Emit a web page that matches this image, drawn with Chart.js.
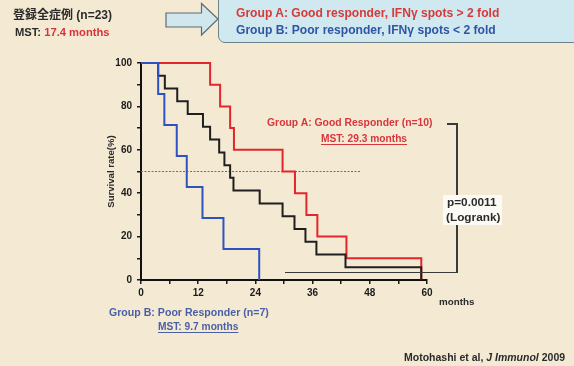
<!DOCTYPE html>
<html>
<head>
<meta charset="utf-8">
<script src="https://cdn.jsdelivr.net/npm/chart.js@4/dist/chart.umd.min.js"></script>
<style>
  html, body { margin: 0; padding: 0; }
  body {
    width: 574px; height: 366px; overflow: hidden; position: relative;
    background: #f4ead4;
    font-family: "Liberation Sans", "Noto Sans CJK JP", sans-serif;
  }
  #chart { position: absolute; left: 0; top: 0; }
  .t { position: absolute; white-space: nowrap; font-weight: bold; line-height: 1; }
  .u { text-decoration: underline; text-underline-offset: 2px; text-decoration-thickness: 1px; }
  .line { position: absolute; background: #3a3a3a; }
  #groupbox {
    position: absolute; left: 218px; top: -10px; width: 370px; height: 51px;
    background: #d0e8ef; border: 1px solid #6f8086; border-radius: 7px;
  }
  #pbox { position: absolute; left: 443px; top: 195px; width: 59px; height: 30px; background: #fbfaf4; }
</style>
</head>
<body>
<canvas id="chart" width="574" height="366"></canvas>

<!-- header: whole cohort -->
<div class="t" style="left:13px; top:9px; font-size:12px; color:#2b2b2b;">登録全症例 (n=23)</div>
<div class="t" style="left:15px; top:27px; font-size:11.2px; color:#2b2b2b;">MST: <span style="color:#d8323a;">17.4 months</span></div>

<!-- arrow pointing to the group definitions -->
<svg style="position:absolute; left:0; top:0;" width="574" height="60">
  <polygon points="166,13 201.5,13 201.5,3.5 218,19 201.5,35 201.5,27 166,27"
           fill="#d0e7ee" stroke="#5f6b70" stroke-width="1.2" stroke-linejoin="miter"/>
</svg>
<div id="groupbox"></div>
<div class="t" style="left:236px; top:7px; font-size:12.1px; color:#d63a3a;">Group A: Good responder, IFNγ spots &gt; 2 fold</div>
<div class="t" style="left:236px; top:24px; font-size:12.1px; color:#2f55a4;">Group B: Poor responder, IFNγ spots &lt; 2 fold</div>

<!-- curve annotations -->
<div class="t" style="left:267px; top:118px; font-size:10.4px; color:#d8363c;">Group A: Good Responder (n=10)</div>
<div class="t u" style="left:321px; top:134px; font-size:10.2px; color:#d8363c;">MST: 29.3 months</div>
<div class="t" style="left:109px; top:307px; font-size:10.6px; color:#4b5fa6;">Group B: Poor Responder (n=7)</div>
<div class="t u" style="left:158px; top:322px; font-size:10.2px; color:#4b5fa6;">MST: 9.7 months</div>

<!-- log-rank bracket -->
<div class="line" style="left:447px; top:123px; width:10px; height:1.5px;"></div>
<div class="line" style="left:456px; top:123px; width:1.5px; height:150px;"></div>
<div class="line" style="left:285px; top:271.5px; width:172px; height:1.5px;"></div>
<div id="pbox"></div>
<div class="t" style="left:447px; top:197px; font-size:11.8px; color:#2b2b2b;">p=0.0011</div>
<div class="t" style="left:446px; top:212px; font-size:11.8px; color:#2b2b2b;">(Logrank)</div>

<div class="t" style="left:439px; top:297px; font-size:9.8px; color:#2b2b2b;">months</div>
<div class="t" style="left:404px; top:352px; font-size:10.5px; color:#2b2b2b;">Motohashi et al, <i>J Immunol</i> 2009</div>

<script>
// Kaplan-Meier curves: event times (months) and survival (%) after each event
const monthsA   = [0, 14.5, 16.6, 18.7, 19.5, 29.7, 32.3, 34.7, 37.0, 43.1, 58.8];
const survivalA = [100, 90, 80, 70, 60, 50, 40, 30, 20, 10, 0];

const monthsB   = [0, 3.6, 4.9, 7.5, 9.6, 12.9, 17.3, 24.8];
const survivalB = [100, 85.7, 71.4, 57.1, 42.9, 28.6, 14.3, 0];

const monthsAll   = [0, 3.6, 5.0, 7.6, 9.8, 13.0, 14.5, 16.4, 17.5, 18.7, 19.4, 24.9, 29.7, 32.2, 34.5, 36.8, 42.9, 58.8];
const survivalAll = [100, 94.1, 88.2, 82.4, 76.5, 70.6, 64.7, 58.8, 52.9, 47.1, 41.2, 35.3, 29.4, 23.5, 17.6, 11.8, 5.9, 0];

// median reference line
const medianMonths   = [0, 46];
const medianSurvival = [50, 50];

// axis ticks
const xTickStep = 6,  xLabelEvery = 12, xMax = 60;
const yTickStep = 10, yLabelEvery = 20, yMax = 100;

const toPoints = (xs, ys) => xs.map((x, i) => ({ x, y: ys[i] }));

const inkColor = '#1b1b1b';
const tickFont = { family: 'Liberation Sans', size: 10, weight: 'bold' };

const curve = (data, color, order) => ({
  data, borderColor: color, borderWidth: 2, stepped: 'before',
  pointRadius: 0, fill: false, clip: 6, order
});

new Chart(document.getElementById('chart'), {
  type: 'line',
  data: {
    datasets: [
      curve(toPoints(monthsB, survivalB), '#2f52c0', 0),
      curve(toPoints(monthsAll, survivalAll), '#1f1f1f', 1),
      curve(toPoints(monthsA, survivalA), '#e3262b', 2),
      {
        data: toPoints(medianMonths, medianSurvival),
        borderColor: '#707070', borderWidth: 1, borderDash: [2, 1.5],
        pointRadius: 0, fill: false, order: 3
      }
    ]
  },
  options: {
    responsive: false,
    animation: false,
    devicePixelRatio: 1,
    layout: { padding: { left: 100, right: 147, top: 63, bottom: 0 } },
    plugins: { legend: { display: false }, tooltip: { enabled: false } },
    scales: {
      x: {
        type: 'linear', min: 0, max: xMax,
        afterFit(scale) { scale.height = 86; },
        ticks: {
          stepSize: xTickStep, autoSkip: false, maxRotation: 0, padding: 3,
          color: inkColor, font: tickFont,
          callback: v => (v % xLabelEvery === 0 ? v : '')
        },
        grid: { drawOnChartArea: false, drawTicks: true, tickLength: 4, color: inkColor, lineWidth: 1.5 },
        border: { display: true, color: '#111', width: 2 }
      },
      y: {
        type: 'linear', min: 0, max: yMax,
        afterFit(scale) { scale.width = 41; },
        ticks: {
          stepSize: yTickStep, autoSkip: false, padding: 5,
          color: inkColor, font: tickFont,
          callback: v => (v % yLabelEvery === 0 ? v : '')
        },
        title: {
          display: true, text: 'Survival rate(%)', color: '#2b2b2b',
          font: { family: 'Liberation Sans', size: 9.6, weight: 'bold' }, padding: { top: 6, bottom: 0 }
        },
        grid: { drawOnChartArea: false, drawTicks: true, tickLength: 4, color: inkColor, lineWidth: 1.5 },
        border: { display: true, color: '#111', width: 2 }
      }
    }
  }
});
</script>
</body>
</html>
